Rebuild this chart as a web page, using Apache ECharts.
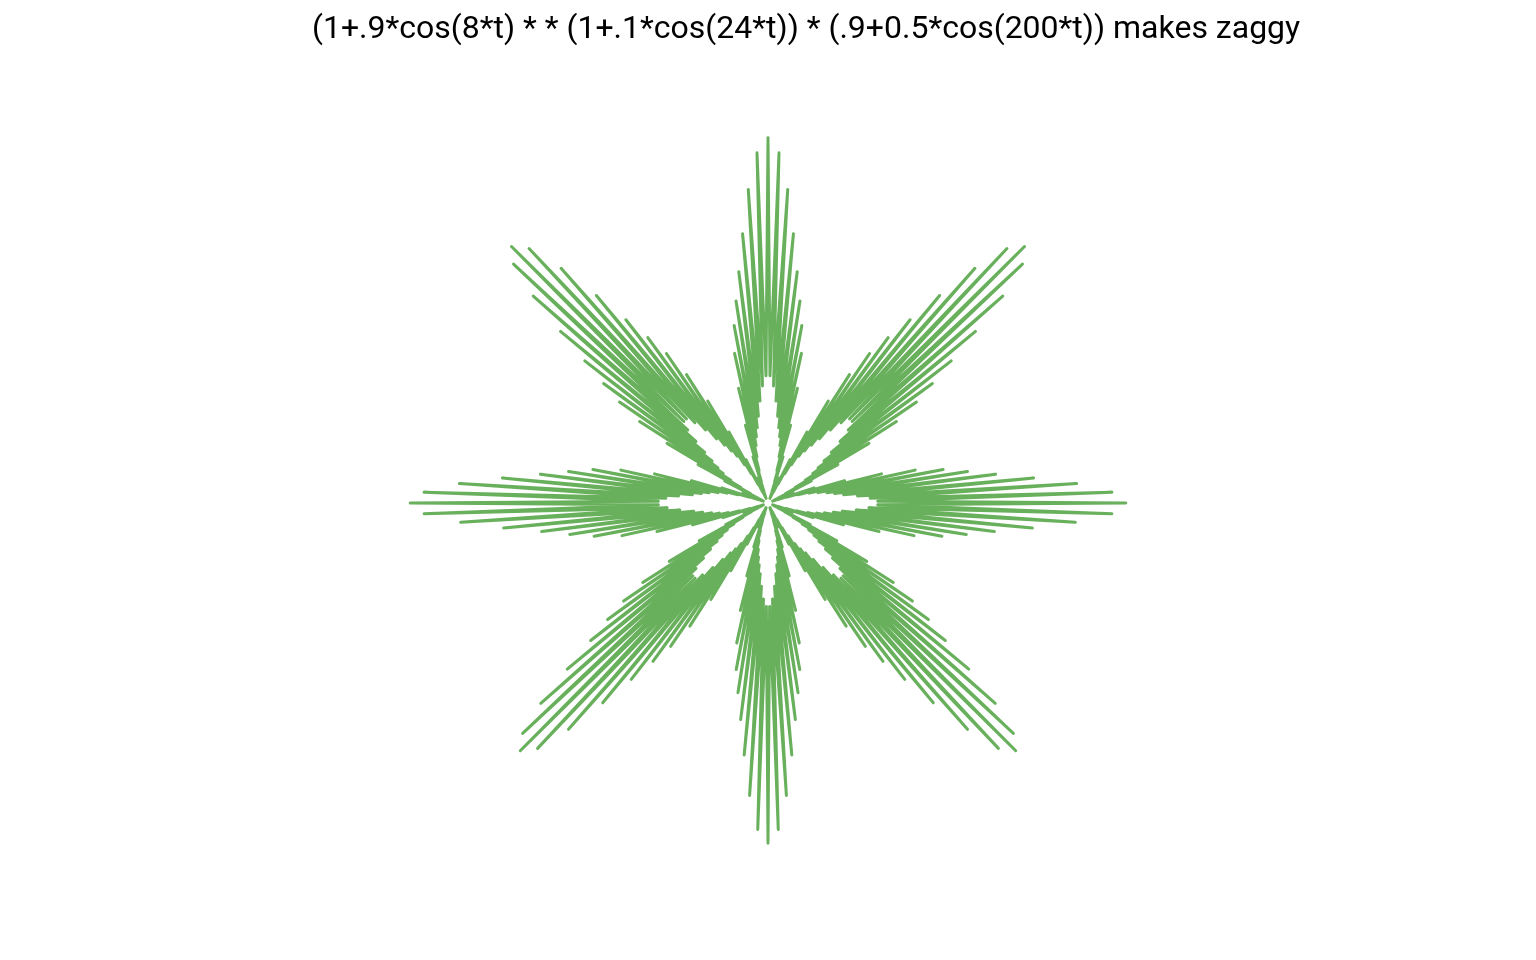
<!DOCTYPE html>
<html>
<head>
<meta charset="utf-8">
<script src="https://cdn.jsdelivr.net/npm/echarts@6/dist/echarts.min.js"></script>
<style>
  html, body { margin: 0; padding: 0; background: #fff; }
  #chart { width: 1536px; height: 960px; }
</style>
</head>
<body>
<div id="chart"></div>
<script>
// title of the plot
const titleText = '(1+.9*cos(8*t) * * (1+.1*cos(24*t)) * (.9+0.5*cos(200*t)) makes zaggy';

// angle between two read points (degrees), clockwise from the top
const angleStep = 0.9;

// radius read at every step, peak / trough alternating, 0deg -> 360deg
const radii = [
  2.93, 1.02, 2.81, 0.94, 2.52, 0.82, 2.17, 0.70, 1.87, 0.61,
  1.64, 0.54, 1.45, 0.47, 1.23, 0.38, 0.95, 0.27, 0.65, 0.18,
  0.39, 0.10, 0.22, 0.06, 0.14, 0.04, 0.14, 0.06, 0.22, 0.10,
  0.39, 0.17, 0.65, 0.27, 0.95, 0.36, 1.22, 0.45, 1.45, 0.51,
  1.64, 0.58, 1.86, 0.66, 2.16, 0.77, 2.51, 0.87, 2.80, 0.94,
  2.91, 0.94, 2.80, 0.87, 2.51, 0.76, 2.16, 0.65, 1.86, 0.56,
  1.63, 0.49, 1.44, 0.43, 1.22, 0.35, 0.94, 0.25, 0.64, 0.16,
  0.39, 0.09, 0.22, 0.05, 0.13, 0.04, 0.13, 0.05, 0.22, 0.09,
  0.39, 0.16, 0.64, 0.25, 0.94, 0.34, 1.21, 0.41, 1.43, 0.48,
  1.62, 0.54, 1.84, 0.61, 2.14, 0.72, 2.48, 0.82, 2.76, 0.88,
  2.87, 0.88, 2.76, 0.81, 2.47, 0.71, 2.13, 0.60, 1.83, 0.53,
  1.61, 0.46, 1.42, 0.40, 1.20, 0.33, 0.92, 0.24, 0.63, 0.15,
  0.38, 0.09, 0.21, 0.05, 0.13, 0.04, 0.13, 0.05, 0.21, 0.09,
  0.38, 0.15, 0.63, 0.23, 0.92, 0.32, 1.19, 0.39, 1.40, 0.45,
  1.59, 0.51, 1.80, 0.59, 2.09, 0.68, 2.43, 0.78, 2.70, 0.84,
  2.81, 0.84, 2.70, 0.78, 2.42, 0.68, 2.08, 0.58, 1.79, 0.50,
  1.57, 0.45, 1.39, 0.39, 1.17, 0.31, 0.90, 0.23, 0.62, 0.15,
  0.37, 0.08, 0.21, 0.05, 0.13, 0.04, 0.13, 0.05, 0.21, 0.08,
  0.37, 0.15, 0.61, 0.23, 0.89, 0.31, 1.15, 0.38, 1.36, 0.44,
  1.54, 0.50, 1.75, 0.57, 2.03, 0.67, 2.35, 0.77, 2.62, 0.83,
  2.73,
  0.83, 2.62, 0.77, 2.35, 0.67, 2.03, 0.57, 1.75, 0.50, 1.54,
  0.44, 1.36, 0.38, 1.15, 0.31, 0.89, 0.23, 0.61, 0.15, 0.37,
  0.08, 0.21, 0.05, 0.13, 0.04, 0.13, 0.05, 0.21, 0.08, 0.37,
  0.15, 0.62, 0.23, 0.90, 0.31, 1.17, 0.39, 1.39, 0.45, 1.57,
  0.50, 1.79, 0.58, 2.08, 0.68, 2.42, 0.78, 2.70, 0.84, 2.81,
  0.84, 2.70, 0.78, 2.43, 0.68, 2.09, 0.59, 1.80, 0.51, 1.59,
  0.45, 1.40, 0.39, 1.19, 0.32, 0.92, 0.23, 0.63, 0.15, 0.38,
  0.09, 0.21, 0.05, 0.13, 0.04, 0.13, 0.05, 0.21, 0.09, 0.38,
  0.15, 0.63, 0.24, 0.92, 0.33, 1.20, 0.40, 1.42, 0.46, 1.61,
  0.53, 1.83, 0.60, 2.13, 0.71, 2.47, 0.81, 2.76, 0.88, 2.87,
  0.88, 2.76, 0.82, 2.48, 0.72, 2.14, 0.61, 1.84, 0.54, 1.62,
  0.48, 1.43, 0.41, 1.21, 0.34, 0.94, 0.25, 0.64, 0.16, 0.39,
  0.09, 0.22, 0.05, 0.13, 0.04, 0.13, 0.05, 0.22, 0.09, 0.39,
  0.16, 0.64, 0.25, 0.94, 0.35, 1.22, 0.43, 1.44, 0.49, 1.63,
  0.56, 1.86, 0.65, 2.16, 0.76, 2.51, 0.87, 2.80, 0.94, 2.91,
  0.94, 2.80, 0.87, 2.51, 0.77, 2.16, 0.66, 1.86, 0.58, 1.64,
  0.51, 1.45, 0.45, 1.22, 0.36, 0.95, 0.27, 0.65, 0.17, 0.39,
  0.10, 0.22, 0.06, 0.14, 0.04, 0.14, 0.06, 0.22, 0.10, 0.39,
  0.18, 0.65, 0.27, 0.95, 0.38, 1.23, 0.47, 1.45, 0.54, 1.64,
  0.61, 1.87, 0.70, 2.17, 0.82, 2.52, 0.94, 2.81, 1.02, 2.93
];

const chart = echarts.init(document.getElementById('chart'));

// polar line wants [radius, angle]
const points = radii.map((r, i) => [r, i * angleStep]);

chart.setOption({
  animation: false,
  backgroundColor: '#fff',
  title: {
    text: titleText,
    left: 307,
    top: 9,
    textStyle: {
      fontFamily: 'Roboto',
      fontSize: 32,
      fontWeight: 'normal',
      color: '#000'
    }
  },
  polar: {
    center: [768, 503],
    radius: 374
  },
  angleAxis: {
    type: 'value',
    min: 0,
    max: 360,
    startAngle: 90,
    clockwise: true,
    show: false
  },
  radiusAxis: {
    type: 'value',
    min: 0,
    max: 3,
    show: false
  },
  series: [
    {
      type: 'line',
      coordinateSystem: 'polar',
      showSymbol: false,
      silent: true,
      data: points,
      lineStyle: {
        color: '#69b05d',
        width: 3,
        cap: 'round',
        join: 'round'
      }
    }
  ]
});
</script>
</body>
</html>
